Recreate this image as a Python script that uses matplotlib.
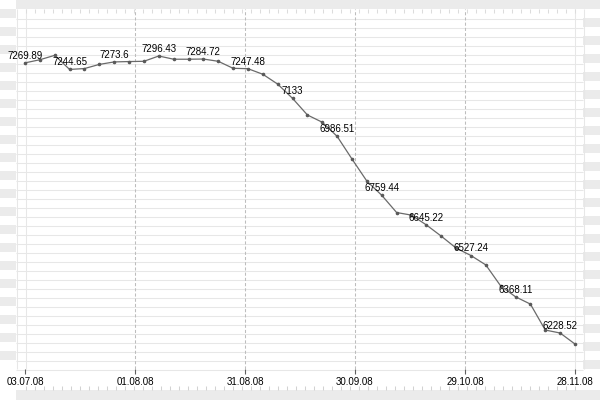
import matplotlib
matplotlib.use("Agg")
import matplotlib.pyplot as plt
import matplotlib.dates as mdates
from matplotlib.patches import Rectangle
import numpy as np
import pandas as pd

# ---------------- data ----------------
dates = ["03.07.08", "07.07.08", "11.07.08", "15.07.08", "19.07.08", "23.07.08",
         "27.07.08", "31.07.08", "04.08.08", "08.08.08", "12.08.08", "16.08.08",
         "20.08.08", "24.08.08", "28.08.08", "01.09.08", "05.09.08", "09.09.08",
         "13.09.08", "17.09.08", "21.09.08", "25.09.08", "29.09.08", "03.10.08",
         "07.10.08", "11.10.08", "15.10.08", "19.10.08", "23.10.08", "27.10.08",
         "31.10.08", "04.11.08", "08.11.08", "12.11.08", "16.11.08", "20.11.08",
         "24.11.08", "28.11.08"]
values = [7269.89, 7282.0, 7299.0, 7244.65, 7248.0, 7264.0,
          7273.6, 7275.0, 7276.0, 7296.43, 7284.0, 7284.0,
          7284.72, 7276.0, 7249.0, 7247.48, 7226.0, 7188.0,
          7133.0, 7069.0, 7041.0, 6986.51, 6899.0, 6814.0,
          6759.44, 6693.0, 6683.0, 6645.22, 6602.0, 6556.0,
          6527.24, 6491.0, 6410.0, 6368.11, 6340.0, 6240.0,
          6228.52, 6186.0]
tick_labels = ["03.07.08", "01.08.08", "31.08.08", "30.09.08", "29.10.08", "28.11.08"]
label_step = 3

# ---------------- figure ----------------
W, H = 600, 400
fig = plt.figure(figsize=(6, 4), dpi=100)
fig.patch.set_facecolor("white")

FONT = "Liberation Sans"
BAND = "#ebebeb"
GRID = "#e7e7e7"

# background frame drawn in pixel coordinates
bg = fig.add_axes([0, 0, 1, 1])
bg.set_xlim(0, W)
bg.set_ylim(H, 0)
bg.axis("off")

bg.add_patch(Rectangle((16, 0), W - 16, 9, color=BAND, lw=0))
bg.add_patch(Rectangle((16, 390), W - 16, 10, color=BAND, lw=0))
for k in range(20):
    bg.add_patch(Rectangle((0, 9 + 18 * k), 16, 9, color=BAND, lw=0))
    bg.add_patch(Rectangle((583, 18 + 18 * k), 17, 9, color=BAND, lw=0))

for y in range(18, 370, 9):
    bg.plot([16, 583], [y + 0.5, y + 0.5], color=GRID, lw=0.75, solid_capstyle="butt")
for x in (16, 25, 574, 583):
    bg.plot([x + 0.5, x + 0.5], [9, 369], color=GRID, lw=0.75, solid_capstyle="butt")
for x in range(25, 575, 9):
    bg.plot([x + 0.5, x + 0.5], [9, 13], color="#dcdcdc", lw=0.75, solid_capstyle="butt")
    bg.plot([x + 0.5, x + 0.5], [386, 390], color="#d2d2d2", lw=0.75, solid_capstyle="butt")

# main axes
ax = fig.add_axes([25 / W, 31 / H, 550 / W, 360 / H])
ax.patch.set_visible(False)
for s in ax.spines.values():
    s.set_visible(False)

xd = mdates.date2num(pd.to_datetime(dates, format="%d.%m.%y"))
ax.set_xlim(xd[0], xd[-1])
ax.set_ylim(6089.8, 7477.6)

tick_pos = np.linspace(xd[0], xd[-1], len(tick_labels))
for tp in tick_pos[1:-1]:
    ax.axvline(tp, color="#bdbdbd", lw=0.75, ls=(0, (3, 2)), zorder=1)

ax.plot(xd, values, color="#6a6a6a", lw=0.9, marker="o", markersize=1.6,
        markerfacecolor="#5a5a5a", markeredgecolor="#5a5a5a", clip_on=False, zorder=3)

for i in range(0, len(values), label_step):
    txt = f"{values[i]:.2f}".rstrip("0").rstrip(".")
    ax.annotate(txt, (xd[i], values[i]), xytext=(0, 2.9), textcoords="offset points",
                ha="center", va="baseline", fontsize=7, family=FONT, color="black",
                zorder=4, annotation_clip=False)

ax.set_xticks(tick_pos)
ax.set_xticklabels(tick_labels, fontsize=7, family=FONT, color="black")
ax.tick_params(axis="x", direction="out", length=3.6, width=0.8, color="#606060", pad=2)
ax.set_yticks([])

fig.savefig("out.png", dpi=100)
